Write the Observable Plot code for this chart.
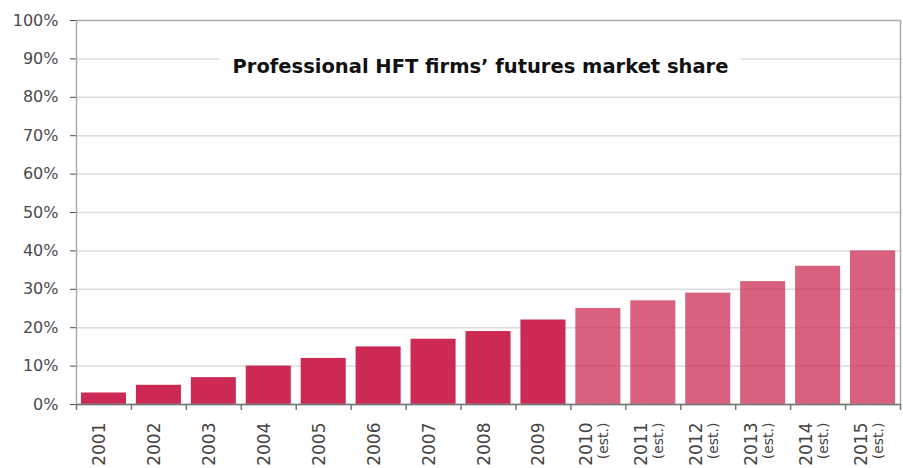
<!DOCTYPE html>
<html><head><meta charset="utf-8">
<script src="https://cdn.jsdelivr.net/npm/d3@7"></script>
<script src="https://cdn.jsdelivr.net/npm/@observablehq/plot@0.6"></script>
<style>body{margin:0;background:#fff}</style>
</head><body><div id="chart"></div>
<script>
const years = ["2001","2002","2003","2004","2005","2006","2007","2008","2009","2010","2011","2012","2013","2014","2015"];
const shares = [3,5,7,10,12,15,17,19,22,25,27,29,32,36,40];
const estimated = [false,false,false,false,false,false,false,false,false,true,true,true,true,true,true];
const yTicks = [0,10,20,30,40,50,60,70,80,90,100];
const title = "Professional HFT firms’ futures market share";
const estLabel = "(est.)";

const data = years.map((year, i) => ({year, share: shares[i], est: estimated[i]}));
const W = 903, H = 468, mL = 76, mR = 3, mT = 20, mB = 64;
const step = (W - mL - mR) / years.length;
const actual = data.filter(d => !d.est);
const est = data.filter(d => d.est);

const chart = Plot.plot({
  width: W, height: H,
  marginLeft: mL, marginRight: mR, marginTop: mT, marginBottom: mB,
  style: {fontFamily: "DejaVu Sans", fontSize: "16px", background: "white", color: "#4a4a4a"},
  x: {domain: years, paddingInner: 0.18, paddingOuter: 0.09, round: false, axis: null},
  y: {domain: [0, 100], ticks: yTicks, tickFormat: d => d + "%", tickSize: 6, tickPadding: 12, label: null, line: true},
  marks: [
    Plot.ruleY(yTicks.filter(d => d > 0 && d < 100), {stroke: "#dcdcdc", strokeWidth: 1.5}),
    Plot.text([title], {frameAnchor: "top", dy: 39, dx: -8, fontWeight: "bold", fontSize: 19.5, fill: "#111", stroke: "white", strokeWidth: 30}),
    Plot.barY(actual, {x: "year", y: "share", fill: "#c91e4b", fillOpacity: 0.95}),
    Plot.barY(est, {x: "year", y: "share", fill: "#d0385f", fillOpacity: 0.8}),
    Plot.frame({stroke: "#aaa", strokeWidth: 1.5}),
    Plot.ruleY([0], {stroke: "#777", strokeWidth: 1.5}),
    Plot.ruleX(years, {x: d => d, y1: 0, y2: 0, insetBottom: -6, dx: -step / 2, stroke: "#777", strokeWidth: 1.5}),
    Plot.ruleX([years[years.length - 1]], {x: d => d, y1: 0, y2: 0, insetBottom: -6, dx: step / 2, stroke: "#777", strokeWidth: 1.5}),
    Plot.text(actual, {x: "year", text: "year", frameAnchor: "bottom", rotate: -90, textAnchor: "end", dy: 18, dx: 1, fontSize: 17, fill: "#444"}),
    Plot.text(est, {x: "year", text: "year", frameAnchor: "bottom", rotate: -90, textAnchor: "end", dy: 18, dx: -6, fontSize: 17, fill: "#444"}),
    Plot.text(est, {x: "year", text: () => estLabel, frameAnchor: "bottom", rotate: -90, textAnchor: "end", dy: 18, dx: 10, fontSize: 14, fill: "#444"})
  ]
});
document.getElementById("chart").appendChild(chart);
</script>
</body></html>
